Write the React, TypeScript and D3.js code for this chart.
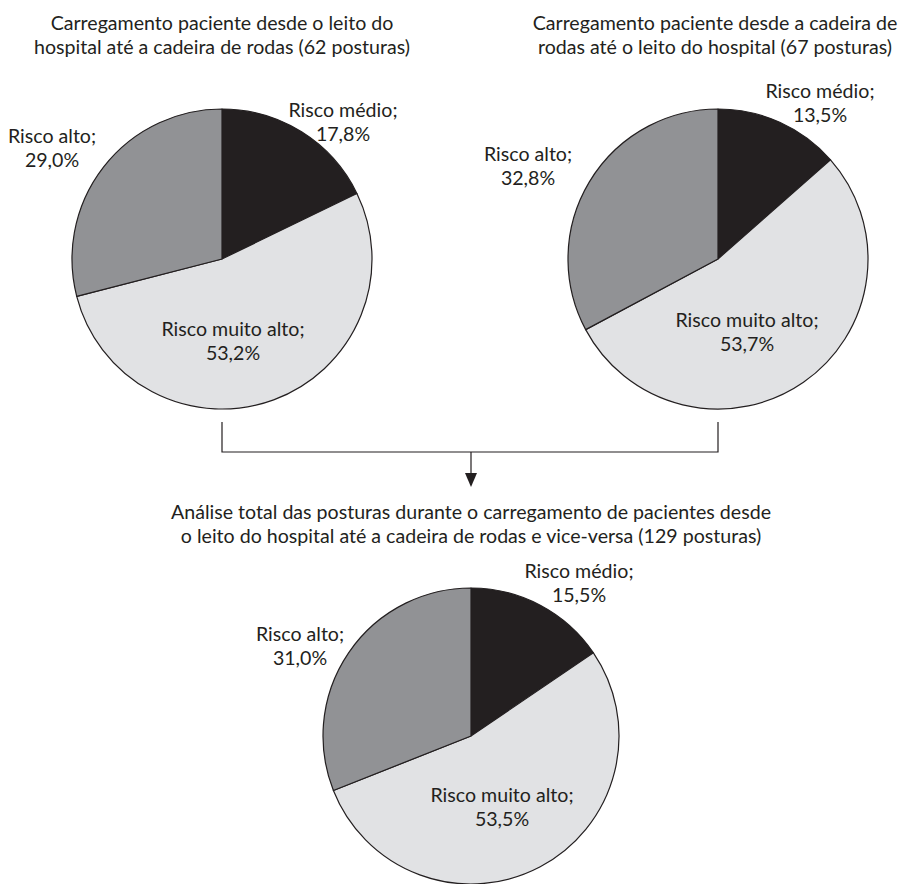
import React from "react";
import * as d3 from "d3";

// Risk categories, clockwise from 12 o'clock
const categories = ["Risco médio", "Risco muito alto", "Risco alto"];
const colors = ["#231f20", "#e1e2e4", "#919295"];

// Percentages per posture group
const bedToChair = [17.8, 53.2, 29.0];
const chairToBed = [13.5, 53.7, 32.8];
const totalPostures = [15.5, 53.5, 31.0];

const titleBedToChair = [
  "Carregamento paciente desde o leito do",
  "hospital até a cadeira de rodas (62 posturas)",
];
const titleChairToBed = [
  "Carregamento paciente desde a cadeira de",
  "rodas até o leito do hospital (67 posturas)",
];
const titleTotal = [
  "Análise total das posturas durante o carregamento de pacientes desde",
  "o leito do hospital até a cadeira de rodas e vice-versa (129 posturas)",
];

const W = 903;
const H = 884;
const FONT = "Lato, 'Open Sans', sans-serif";
const FS = 19.6;
const LINE = 24;

const fmt = (v: number) => v.toFixed(1).replace(".", ",") + "%";

type LabelPos = { x: number; y: number };

function Pie({
  cx,
  cy,
  r,
  values,
  labels,
}: {
  cx: number;
  cy: number;
  r: number;
  values: number[];
  labels: LabelPos[];
}) {
  const pie = d3
    .pie<number>()
    .sort(null)
    .value((d) => d)
    .startAngle(0)
    .endAngle(2 * Math.PI);
  const arcs = pie(values);
  const arc = d3.arc<d3.PieArcDatum<number>>().innerRadius(0).outerRadius(r);
  return (
    <g>
      <g transform={`translate(${cx},${cy})`}>
        {arcs.map((a, i) => (
          <path
            key={i}
            d={arc(a) || ""}
            fill={colors[i]}
            stroke="#231f20"
            strokeWidth={1.2}
            strokeLinejoin="round"
          />
        ))}
      </g>
      {labels.map((p, i) => (
        <text
          key={i}
          x={p.x}
          y={p.y}
          textAnchor="middle"
          fontFamily={FONT}
          fontSize={FS}
          fill="#231f20"
        >
          <tspan x={p.x}>{categories[i]};</tspan>
          <tspan x={p.x} dy={LINE}>
            {fmt(values[i])}
          </tspan>
        </text>
      ))}
    </g>
  );
}

function Title({ x, y, lines }: { x: number; y: number; lines: string[] }) {
  return (
    <text x={x} y={y} textAnchor="middle" fontFamily={FONT} fontSize={FS} fill="#231f20">
      {lines.map((l, i) => (
        <tspan key={i} x={x} dy={i === 0 ? 0 : LINE}>
          {l}
        </tspan>
      ))}
    </text>
  );
}

export default function App() {
  const p1 = { cx: 222, cy: 259, r: 150 };
  const p2 = { cx: 718, cy: 259, r: 150 };
  const p3 = { cx: 471, cy: 736, r: 148 };
  const joinY = 452;
  const dropTop = 422;

  const connector = d3.path();
  connector.moveTo(p1.cx, dropTop);
  connector.lineTo(p1.cx, joinY);
  connector.lineTo(p2.cx, joinY);
  connector.lineTo(p2.cx, dropTop);
  connector.moveTo(p3.cx, joinY);
  connector.lineTo(p3.cx, 474);

  return (
    <svg
      width={W}
      height={H}
      viewBox={`0 0 ${W} ${H}`}
      style={{ position: "absolute", left: 0, top: 0, background: "#fff" }}
    >
      <rect width={W} height={H} fill="#fff" />
      <Title x={222} y={30} lines={titleBedToChair} />
      <Title x={715} y={30} lines={titleChairToBed} />
      <Title x={471} y={519} lines={titleTotal} />

      <Pie
        {...p1}
        values={bedToChair}
        labels={[
          { x: 343, y: 117 },
          { x: 233, y: 336 },
          { x: 52, y: 143 },
        ]}
      />
      <Pie
        {...p2}
        values={chairToBed}
        labels={[
          { x: 820, y: 98 },
          { x: 747, y: 327 },
          { x: 528, y: 161 },
        ]}
      />
      <Pie
        {...p3}
        values={totalPostures}
        labels={[
          { x: 579, y: 578 },
          { x: 502, y: 802 },
          { x: 300, y: 641 },
        ]}
      />

      <path d={connector.toString()} fill="none" stroke="#231f20" strokeWidth={1.2} />
      <path
        d={`M${p3.cx - 6},${473} L${p3.cx + 6},${473} L${p3.cx},${487} Z`}
        fill="#231f20"
      />
    </svg>
  );
}
